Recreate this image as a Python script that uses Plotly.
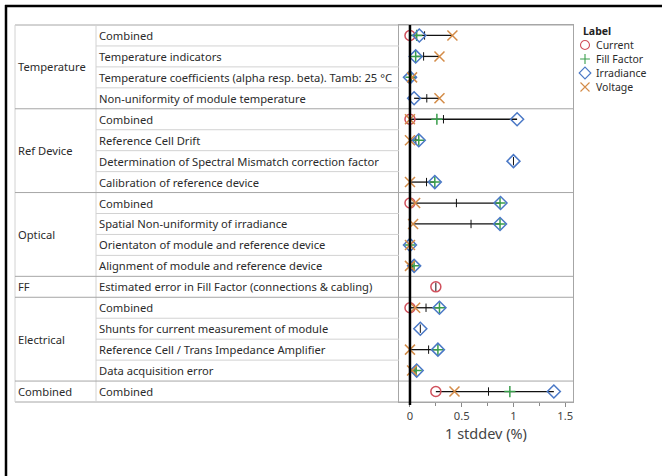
import plotly.graph_objects as go

W, H = 662, 476

# ---------------- data ----------------
groups = ["Temperature", "Ref Device", "Optical", "FF", "Electrical", "Combined"]
group_sizes = [4, 4, 4, 1, 4, 1]
subcategories = [
    "Combined",
    "Temperature indicators",
    "Temperature coefficients (alpha resp. beta). Tamb: 25 °C",
    "Non-uniformity of module temperature",
    "Combined",
    "Reference Cell Drift",
    "Determination of Spectral Mismatch correction factor",
    "Calibration of reference device",
    "Combined",
    "Spatial Non-uniformity of irradiance",
    "Orientaton of module and reference device",
    "Alignment of module and reference device",
    "Estimated error in Fill Factor (connections & cabling)",
    "Combined",
    "Shunts for current measurement of module",
    "Reference Cell / Trans Impedance Amplifier",
    "Data acquisition error",
    "Combined",
]
series_labels = ["Current", "Fill Factor", "Irradiance", "Voltage"]
current     = [0.0, None, None, None, 0.0, None, None, None, 0.0, None, None, None, 0.25, 0.0, None, None, None, 0.25]
fill_factor = [0.065, 0.055, 0.01, None, 0.26, 0.085, None, 0.24, 0.87, 0.87, 0.0, 0.04, None, 0.285, None, 0.27, 0.06, 0.965]
irradiance  = [0.09, 0.055, 0.0, 0.04, 1.035, 0.085, 1.0, 0.24, 0.875, 0.87, 0.0, 0.04, None, 0.285, 0.1, 0.27, 0.065, 1.39]
voltage     = [0.41, 0.285, 0.02, 0.285, 0.0, 0.0, None, 0.0, 0.05, 0.03, 0.0, 0.0, None, 0.05, None, 0.0, 0.02, 0.43]
x_ticks = [0, 0.5, 1, 1.5]
x_title = "1 stddev (%)"

# ---------------- styles ----------------
FONT = "Noto Sans"
TXT = "#2b2b2b"
FS = 11.2
LFS = 10.5
styles = {
    "Current": dict(symbol="circle-open", size=10, color="#d0505c"),
    "Fill Factor": dict(symbol="cross-thin-open", size=8, color="#3a9e4c"),
    "Irradiance": dict(symbol="diamond-open", size=10, color="#4a78c6"),
    "Voltage": dict(symbol="x-thin-open", size=10, color="#d48c48"),
}
values = {"Current": current, "Fill Factor": fill_factor,
          "Irradiance": irradiance, "Voltage": voltage}

PL, PR, PT, PB = 399, 573, 25, 402   # plot box in pixels
TL, TS = 15, 96                      # table left, column split


def px(x):
    return x / W


def py(y):
    return 1 - y / H


n = len(subcategories)
rows = list(range(n))

fig = go.Figure()

# range lines (min..max) and mean ticks per row
lx, ly, mx, my = [], [], [], []
for i in rows:
    vals = [values[s][i] for s in series_labels if values[s][i] is not None]
    if not vals:
        continue
    lx += [min(vals), max(vals), None]
    ly += [i, i, None]
    mx.append(sum(vals) / len(vals))
    my.append(i)
fig.add_trace(go.Scatter(x=lx, y=ly, mode="lines",
                         line=dict(color="#111111", width=1.3),
                         hoverinfo="skip", showlegend=False))
fig.add_trace(go.Scatter(x=mx, y=my, mode="markers",
                         marker=dict(symbol="line-ns", size=6,
                                     line=dict(color="#111111", width=1)),
                         hoverinfo="skip", showlegend=False))

for s in series_labels:
    st = styles[s]
    fig.add_trace(go.Scatter(
        x=values[s], y=rows, mode="markers", name=s, showlegend=False,
        marker=dict(symbol=st["symbol"], size=st["size"], color=st["color"],
                    line=dict(color=st["color"], width=1.5))))

# manual legend (markers on an auxiliary axis)
for k, s in enumerate(series_labels):
    st = styles[s]
    fig.add_trace(go.Scatter(
        x=[0.5], y=[k], mode="markers", xaxis="x2", yaxis="y2",
        showlegend=False, hoverinfo="skip",
        marker=dict(symbol=st["symbol"], size=st["size"] - 1, color=st["color"],
                    line=dict(color=st["color"], width=1.1))))

shapes = []
# outer frame
shapes.append(dict(type="line", xref="paper", yref="paper",
                   x0=px(6), x1=px(6), y0=0, y1=py(5), line=dict(color="black", width=2.5)))
shapes.append(dict(type="line", xref="paper", yref="paper",
                   x0=px(5), x1=1, y0=py(6), y1=py(6), line=dict(color="black", width=2.5)))
# table borders
light = "#d2d2d2"
mid = "#a6a6a6"
shapes.append(dict(type="line", xref="paper", yref="paper",
                   x0=px(TL), x1=px(PR), y0=py(PT), y1=py(PT), line=dict(color=mid, width=1)))
shapes.append(dict(type="line", xref="paper", yref="paper",
                   x0=px(TL), x1=px(PR), y0=py(PB), y1=py(PB), line=dict(color=mid, width=1)))
shapes.append(dict(type="line", xref="paper", yref="paper",
                   x0=px(TL), x1=px(TL), y0=py(PT), y1=py(PB), line=dict(color=light, width=1)))
shapes.append(dict(type="line", xref="paper", yref="paper",
                   x0=px(TS), x1=px(TS), y0=py(PT), y1=py(PB), line=dict(color=light, width=1)))

# row and group separators
group_bounds = []
acc = 0
for gsz in group_sizes[:-1]:
    acc += gsz
    group_bounds.append(acc)
for b in range(1, n):
    yb = b - 0.5
    if b in group_bounds:
        shapes.append(dict(type="line", xref="paper", yref="y",
                           x0=px(TL), x1=px(PR), y0=yb, y1=yb, line=dict(color=mid, width=1)))
    else:
        shapes.append(dict(type="line", xref="paper", yref="y",
                           x0=px(TS), x1=px(PL), y0=yb, y1=yb, line=dict(color=light, width=1)))

# zero reference line
shapes.append(dict(type="line", xref="x", yref="y domain", x0=0, x1=0, y0=-0.008, y1=1,
                   line=dict(color="black", width=2.5)))

annotations = []
for i, t in enumerate(subcategories):
    annotations.append(dict(text=t, xref="paper", yref="y", x=px(TS + 1), y=i,
                            xanchor="left", yanchor="middle", showarrow=False,
                            font=dict(family=FONT, size=FS, color=TXT)))
start = 0
for g, gsz in zip(groups, group_sizes):
    yc = start + (gsz - 1) / 2
    annotations.append(dict(text=g, xref="paper", yref="y", x=px(TL + 1), y=yc,
                            xanchor="left", yanchor="middle", showarrow=False,
                            font=dict(family=FONT, size=FS, color=TXT)))
    start += gsz

# legend texts
annotations.append(dict(text="<b>Label</b>", xref="paper", yref="paper", x=px(581), y=py(31),
                        xanchor="left", yanchor="middle", showarrow=False,
                        font=dict(family=FONT, size=LFS, color="#222222")))
for k, s in enumerate(series_labels):
    annotations.append(dict(text=s, xref="paper", yref="y2", x=px(594), y=k,
                            xanchor="left", yanchor="middle", showarrow=False,
                            font=dict(family=FONT, size=LFS, color=TXT)))

LEG_TOP, LEG_STEP = 45, 14
fig.update_layout(
    width=W, height=H,
    margin=dict(l=0, r=0, t=0, b=0),
    paper_bgcolor="white", plot_bgcolor="white",
    showlegend=False,
    shapes=shapes, annotations=annotations,
    xaxis=dict(domain=[px(PL), px(PR)], range=[-0.106, 1.575],
               tickvals=x_ticks, ticktext=["0", "0.5", "1", "1.5"],
               ticks="outside", ticklen=4, tickcolor="#8a8a8a",
               minor=dict(dtick=0.25, tick0=0, ticks="outside", ticklen=3, tickcolor="#8a8a8a"),
               showgrid=False, zeroline=False,
               showline=True, mirror=True, linecolor=mid, linewidth=1,
               tickfont=dict(family=FONT, size=FS, color="#444444"),
               title=dict(text=x_title, standoff=5,
                          font=dict(family=FONT, size=14.5, color="#444444"))),
    yaxis=dict(domain=[py(PB), py(PT)], range=[n - 0.5, -0.5],
               showticklabels=False, showgrid=False, zeroline=False, ticks="",
               showline=True, mirror=True, linecolor=mid, linewidth=1),
    xaxis2=dict(domain=[px(577), px(593)], range=[0, 1], anchor="y2", visible=False),
    yaxis2=dict(domain=[py(LEG_TOP + 3.5 * LEG_STEP), py(LEG_TOP - 0.5 * LEG_STEP)],
                range=[3.5, -0.5], anchor="x2", visible=False),
)

fig.write_html("out.html", config={"displayModeBar": False},
               post_script="document.body.style.margin='0';document.body.style.overflow='hidden';")
